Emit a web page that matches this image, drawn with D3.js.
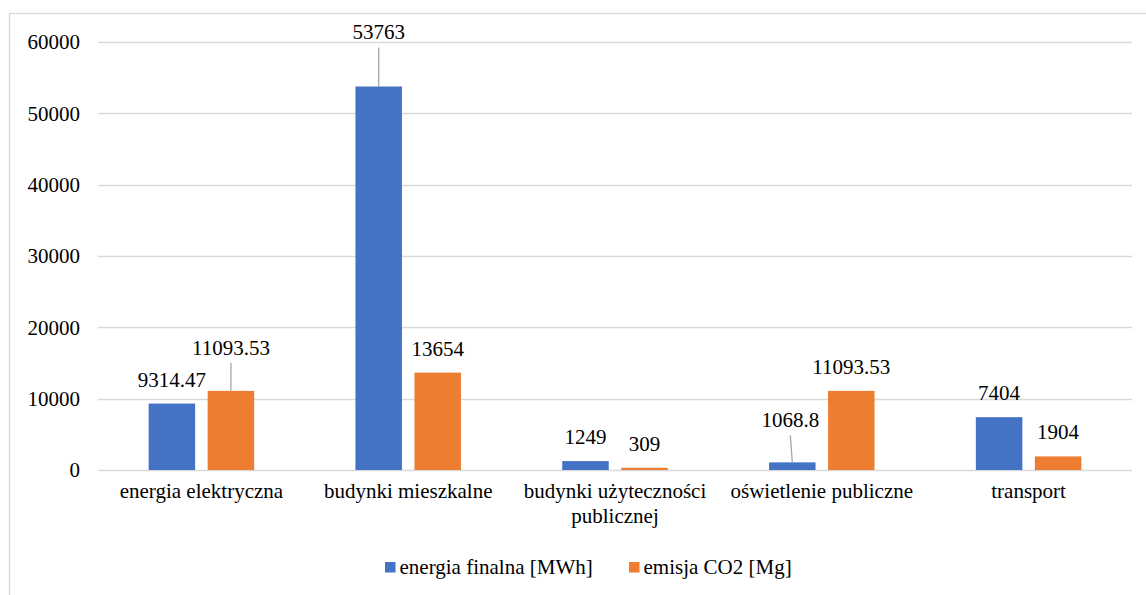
<!DOCTYPE html>
<html>
<head>
<meta charset="utf-8">
<script src="https://cdn.jsdelivr.net/npm/d3@7"></script>
</head>
<body style="margin:0;background:#fff">
<svg id="chart" width="1146" height="595" style="display:block"></svg>
<script>
// data
const categories = ["energia elektryczna", "budynki mieszkalne", "budynki użyteczności publicznej", "oświetlenie publiczne", "transport"];
const seriesNames = ["energia finalna [MWh]", "emisja CO2 [Mg]"];
const energiaFinalna = [9314.47, 53763, 1249, 1068.8, 7404];
const emisjaCO2 = [11093.53, 13654, 309, 11093.53, 1904];
const yTicks = [0, 10000, 20000, 30000, 40000, 50000, 60000];

const colors = ["#4472C4", "#ED7D31"];
const FONT = "Liberation Serif";

// labels that were dragged away from their bar (leader line drawn) - [dx, dy] from default spot
const labelNudge = {
  "1|0": [0, -30],
  "0|1": [0, -19],
  "3|0": [-2, -18]
};

// every text node gets the font set on itself
function txt(sel) {
  return sel.attr("font-family", FONT).attr("font-size", 21).attr("fill", "#000");
}

const svg = d3.select("#chart");
const plot = {left: 98, right: 1132, top: 42, bottom: 470};

// outer frame, right and bottom edges run off the picture
svg.append("rect")
  .attr("x", 9.5).attr("y", 13.5)
  .attr("width", 1160).attr("height", 600)
  .attr("fill", "none").attr("stroke", "#d9d9d9").attr("stroke-width", 1.3);

const x0 = d3.scaleBand().domain(categories).range([plot.left, plot.right]).padding(0);
const x1 = d3.scaleBand().domain([0, 1]).range([0, x0.bandwidth()])
  .paddingInner(0.212).paddingOuter(0.858);
const y = d3.scaleLinear().domain([0, 60000]).range([plot.bottom, plot.top]);

// gridlines
svg.append("g").selectAll("line").data(yTicks).join("line")
  .attr("x1", plot.left).attr("x2", plot.right)
  .attr("y1", d => Math.round(y(d)) + 0.5).attr("y2", d => Math.round(y(d)) + 0.5)
  .attr("stroke", "#d9d9d9").attr("stroke-width", 1.3);

// y axis labels
svg.append("g").selectAll("text").data(yTicks).join("text")
  .call(txt)
  .attr("x", 80).attr("y", d => y(d)).attr("dy", "0.35em")
  .attr("text-anchor", "end")
  .text(d => d);

const rows = categories.map((c, i) => ({cat: c, i: i, vals: [energiaFinalna[i], emisjaCO2[i]]}));

const groups = svg.append("g").selectAll("g").data(rows).join("g")
  .attr("transform", d => `translate(${x0(d.cat)},0)`);

const bars = groups.selectAll("g.bar").data(d => d.vals.map((v, s) => ({v: v, s: s, i: d.i}))).join("g")
  .attr("class", "bar");

bars.append("rect")
  .attr("x", d => x1(d.s)).attr("width", x1.bandwidth())
  .attr("y", d => y(d.v)).attr("height", d => y(0) - y(d.v))
  .attr("fill", d => colors[d.s]);

bars.each(function (d) {
  let g = d3.select(this);
  let cx = x1(d.s) + x1.bandwidth() / 2;
  let top = y(d.v);
  let nudge = labelNudge[d.i + "|" + d.s] || [0, 0];
  let tx = cx + nudge[0], ty = top - 17 + nudge[1];
  if (nudge[1] !== 0) {
    // leader line from label to bar top
    g.append("line")
      .attr("x1", tx).attr("y1", ty + 8)
      .attr("x2", cx).attr("y2", top)
      .attr("stroke", "#a6a6a6").attr("stroke-width", 1.3);
  }
  g.append("text").call(txt)
    .attr("x", tx).attr("y", ty)
    .attr("text-anchor", "middle")
    .text(d.v);
});

// category labels, wrapped like the original
const wrapAt = {"budynki użyteczności publicznej": ["budynki użyteczności", "publicznej"]};
svg.append("g").selectAll("text").data(categories).join("text")
  .call(txt)
  .attr("x", d => x0(d) + x0.bandwidth() / 2).attr("y", 498)
  .attr("text-anchor", "middle")
  .each(function (d) {
    let lines = wrapAt[d] || [d];
    d3.select(this).selectAll("tspan").data(lines).join("tspan")
      .attr("x", x0(d) + x0.bandwidth() / 2)
      .attr("dy", (l, k) => k ? 25 : 0)
      .text(l => l);
  });

// legend
const legendX = [385, 629];
const legend = svg.append("g").selectAll("g").data(seriesNames).join("g")
  .attr("transform", (d, i) => `translate(${legendX[i]},562)`);
legend.append("rect").attr("width", 10.5).attr("height", 10.5).attr("fill", (d, i) => colors[i]);
legend.append("text").call(txt).attr("x", 14.5).attr("y", 12).text(d => d);
</script>
</body>
</html>
